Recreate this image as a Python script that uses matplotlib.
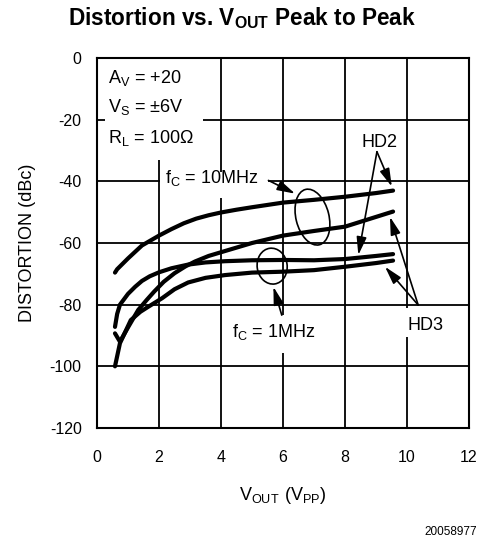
import numpy as np
import matplotlib
matplotlib.use("Agg")
import matplotlib.pyplot as plt
from matplotlib import transforms
from matplotlib.patches import Ellipse, Rectangle

plt.rcParams['font.family'] = ['Liberation Sans', 'DejaVu Sans']
plt.rcParams['mathtext.fontset'] = 'custom'
plt.rcParams['mathtext.rm'] = 'Liberation Sans'
plt.rcParams['mathtext.bf'] = 'Liberation Sans:bold'
plt.rcParams['axes.unicode_minus'] = False

# 10MHz, HD2
x_10m_hd2 = [0.58, 0.65, 0.8, 1.0, 1.45, 2.0, 2.4, 2.8, 3.2, 3.6, 4.0, 4.5, 5.0, 6.0, 7.0, 8.0, 9.0, 9.55]
y_10m_hd2 = [-69.6, -68.5, -67, -65, -60.8, -57.6, -55.5, -53.6, -52.1, -51.0, -50.1, -49.2, -48.4, -46.9, -46, -45, -43.8, -43]
# 1MHz, HD2
x_1m_hd2 = [0.58, 0.65, 0.74, 1.0, 1.23, 1.45, 1.7, 2.0, 2.4, 2.94, 3.5, 4.13, 5.0, 6.0, 7.0, 8.0, 9.0, 9.55]
y_1m_hd2 = [-87.2, -83, -80, -76.5, -74.2, -72.3, -70.8, -69.5, -68.2, -67.0, -66.3, -65.9, -65.6, -65.5, -65.6, -65.2, -64.2, -63.6]
# 10MHz, HD3
x_10m_hd3 = [0.58, 0.74, 1.01, 1.33, 1.6, 1.84, 2.15, 2.5, 2.85, 3.16, 3.6, 4.13, 5.0, 6.0, 7.0, 8.0, 8.6, 9.55]
y_10m_hd3 = [-89.3, -92, -87.2, -81.7, -78.5, -75.8, -72.6, -69.8, -67.6, -66, -64.2, -62.6, -60, -57.6, -56.1, -54.7, -52.8, -49.8]
# 1MHz, HD3
x_1m_hd3 = [0.58, 0.74, 1.09, 1.4, 1.65, 2.1, 2.5, 2.94, 3.5, 4.13, 5.0, 6.0, 7.0, 8.0, 9.0, 9.55]
y_1m_hd3 = [-100, -92.5, -85, -82.3, -80.7, -77.9, -75.0, -72.8, -71.3, -70.4, -69.6, -69.3, -68.8, -67.7, -66.5, -65.7]

xticks = [0, 2, 4, 6, 8, 10, 12]
yticks = [0, -20, -40, -60, -80, -100, -120]

fig = plt.figure(figsize=(4.8, 5.42), dpi=100)
ax = fig.add_axes([0.2021, 0.2103, 0.775, 0.6827])

for xs, ys in [(x_10m_hd2, y_10m_hd2), (x_1m_hd2, y_1m_hd2),
               (x_10m_hd3, y_10m_hd3), (x_1m_hd3, y_1m_hd3)]:
    ax.plot(xs, ys, color='black', lw=3, solid_capstyle='round', solid_joinstyle='round', zorder=3)

ax.set_xlim(0, 12)
ax.set_ylim(-120, 0)
ax.set_xticks(xticks)
ax.set_yticks(yticks)
ax.tick_params(length=0, labelsize=11.5)
ax.tick_params(axis='x', pad=16)
ax.tick_params(axis='y', pad=11)
ax.grid(True, color='black', lw=1.3)
ax.set_axisbelow(True)
for s in ax.spines.values():
    s.set_linewidth(1.5)

ax.set_xlabel(r'$\mathregular{V_{OUT}\ (V_{PP})}$', fontsize=13, labelpad=14)
ax.set_ylabel('DISTORTION (dBc)', fontsize=13, labelpad=10)

# white boxes behind the labels
for (bx, by, bw, bh) in [(0.26, -33.1, 3.16, 33.1), (2.03, -45.4, 3.5, 8.4),
                         (4.23, -95.7, 3.06, 12.3), (9.94, -90.5, 1.38, 9.4)]:
    ax.add_patch(Rectangle((bx, by), bw, bh, facecolor='white', edgecolor='none', zorder=1))

fs = 13
ax.text(0.365, -8.1, r'$\mathregular{A_V}$ = +20', fontsize=fs, va='baseline', zorder=4)
ax.text(0.365, -17.4, r'$\mathregular{V_S}$ = ±6V', fontsize=fs, va='baseline', zorder=4)
ax.text(0.365, -27.6, r'$\mathregular{R_L}$ = 100Ω', fontsize=fs, va='baseline', zorder=4)
ax.text(2.19, -40.6, r'$\mathregular{f_C}$ = 10MHz', fontsize=fs, va='baseline', zorder=4)
ax.text(4.35, -90.6, r'$\mathregular{f_C}$ = 1MHz', fontsize=fs, va='baseline', zorder=4)
ax.text(8.54, -28.9, 'HD2', fontsize=fs, va='baseline', zorder=4)
ax.text(10.03, -88.2, 'HD3', fontsize=fs, va='baseline', zorder=4)

aprops = dict(arrowstyle='-|>,head_length=0.9,head_width=0.25', color='black',
              lw=1.2, shrinkA=0, shrinkB=0, mutation_scale=12)
arrows = [((5.53, -39.7), (6.39, -44.0)),
          ((5.96, -83.4), (5.69, -74.2)),
          ((9.03, -30.4), (9.51, -41.7)),
          ((9.03, -30.4), (8.43, -63.9)),
          ((10.36, -80.1), (9.45, -51.5)),
          ((10.36, -80.1), (9.29, -67.7))]
for start, tip in arrows:
    ax.annotate('', xy=tip, xytext=start, arrowprops=aprops, zorder=4)

# ellipses drawn in inches around a data point
for cx, cy, w, h, ang in [(6.95, -51.6, 0.33, 0.57, 14), (5.65, -67.5, 0.30, 0.36, 8)]:
    tr = fig.dpi_scale_trans + transforms.ScaledTranslation(cx, cy, ax.transData)
    ax.add_patch(Ellipse((0, 0), w, h, angle=ang, transform=tr, fill=False,
                         edgecolor='black', lw=1.2, zorder=4))

fig.text(0.505, 0.966, r'Distortion vs. $\mathbf{V_{OUT}}$ Peak to Peak',
         fontsize=16.3, fontweight='bold', ha='center', va='center')
fig.text(0.994, 0.018, '20058977', fontsize=8.5, ha='right', va='center')

fig.savefig('out.png', dpi=100)
